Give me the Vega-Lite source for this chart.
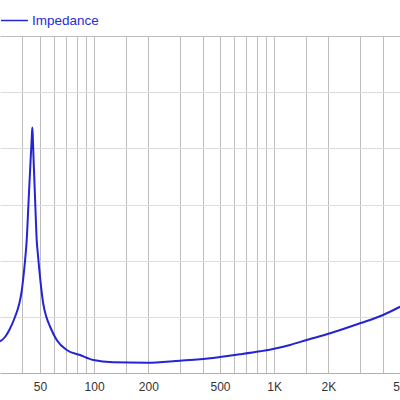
{
  "$schema": "https://vega.github.io/schema/vega-lite/v6.json",
  "width": 400,
  "height": 337,
  "autosize": {"type": "none"},
  "padding": {"top": 36, "left": 0, "right": 0, "bottom": 27},
  "background": "white",
  "config": {"view": {"stroke": null}},
  "data": {
    "values": [
      {"f": 30.0, "z": 5.61, "series": "Impedance"},
      {"f": 31.98, "z": 6.41, "series": "Impedance"},
      {"f": 33.79, "z": 7.66, "series": "Impedance"},
      {"f": 36.35, "z": 9.97, "series": "Impedance"},
      {"f": 38.4, "z": 12.37, "series": "Impedance"},
      {"f": 39.6, "z": 14.6, "series": "Impedance"},
      {"f": 40.52, "z": 17.27, "series": "Impedance"},
      {"f": 41.31, "z": 19.94, "series": "Impedance"},
      {"f": 42.22, "z": 23.68, "series": "Impedance"},
      {"f": 43.14, "z": 29.91, "series": "Impedance"},
      {"f": 44.37, "z": 37.92, "series": "Impedance"},
      {"f": 45.06, "z": 42.02, "series": "Impedance"},
      {"f": 45.35, "z": 43.71, "series": "Impedance"},
      {"f": 45.64, "z": 42.02, "series": "Impedance"},
      {"f": 46.11, "z": 37.92, "series": "Impedance"},
      {"f": 47.12, "z": 29.91, "series": "Impedance"},
      {"f": 47.97, "z": 23.68, "series": "Impedance"},
      {"f": 48.78, "z": 20.9, "series": "Impedance"},
      {"f": 49.41, "z": 18.94, "series": "Impedance"},
      {"f": 50.36, "z": 16.27, "series": "Impedance"},
      {"f": 52.2, "z": 12.28, "series": "Impedance"},
      {"f": 54.38, "z": 9.9, "series": "Impedance"},
      {"f": 56.87, "z": 8.28, "series": "Impedance"},
      {"f": 61.96, "z": 5.88, "series": "Impedance"},
      {"f": 70.44, "z": 4.09, "series": "Impedance"},
      {"f": 83.5, "z": 3.2, "series": "Impedance"},
      {"f": 99.0, "z": 2.31, "series": "Impedance"},
      {"f": 127.3, "z": 1.9, "series": "Impedance"},
      {"f": 196.0, "z": 1.83, "series": "Impedance"},
      {"f": 300.0, "z": 2.19, "series": "Impedance"},
      {"f": 387.4, "z": 2.44, "series": "Impedance"},
      {"f": 500.4, "z": 2.85, "series": "Impedance"},
      {"f": 646.3, "z": 3.33, "series": "Impedance"},
      {"f": 834.8, "z": 3.86, "series": "Impedance"},
      {"f": 985.8, "z": 4.27, "series": "Impedance"},
      {"f": 1225, "z": 4.99, "series": "Impedance"},
      {"f": 1517, "z": 5.88, "series": "Impedance"},
      {"f": 2044, "z": 7.07, "series": "Impedance"},
      {"f": 3000, "z": 8.85, "series": "Impedance"},
      {"f": 4026, "z": 10.33, "series": "Impedance"},
      {"f": 5004, "z": 11.8, "series": "Impedance"}
    ]
  },
  "mark": {"type": "line", "strokeWidth": 2, "interpolate": "monotone", "clip": true},
  "encoding": {
    "x": {
      "field": "f",
      "type": "quantitative",
      "scale": {"type": "log", "domain": [30, 5000], "nice": false},
      "axis": {
        "title": null,
        "values": [40, 50, 60, 70, 80, 90, 100, 150, 200, 300, 400, 500, 600, 700, 800, 900, 1000, 1500, 2000, 3000, 4000, 5000],
        "labelExpr": "(datum.value == 50 || datum.value == 100 || datum.value == 200 || datum.value == 500) ? '' + datum.value : ((datum.value == 1000 || datum.value == 2000 || datum.value == 5000) ? (datum.value / 1000) + 'K' : '')",
        "labelOverlap": false,
        "labelFlush": false,
        "labelBound": false,
        "ticks": false,
        "labelPadding": 8,
        "labelFont": "Liberation Sans",
        "labelFontSize": 12,
        "labelColor": "#333333",
        "gridColor": "#bdbdbd",
        "gridOpacity": 1,
        "domainColor": "#b0b0b0"
      }
    },
    "y": {
      "field": "z",
      "type": "quantitative",
      "scale": {"domain": [0, 60], "nice": false},
      "axis": {
        "title": null,
        "values": [0, 10, 20, 30, 40, 50, 60],
        "labels": false,
        "ticks": false,
        "domain": false,
        "gridColor": {"condition": {"test": "datum.value == 60", "value": "#bdbdbd"}, "value": "#dcdcdc"}
      }
    },
    "color": {
      "field": "series",
      "type": "nominal",
      "scale": {"range": ["#2424d4"]},
      "legend": {
        "title": null,
        "orient": "none",
        "legendX": 0,
        "legendY": -30,
        "padding": 0,
        "symbolType": "stroke",
        "symbolSize": 729,
        "symbolStrokeWidth": 1.5,
        "labelFont": "Liberation Sans",
        "labelFontSize": 13.5,
        "labelColor": "#2a2ad8",
        "labelOffset": 3
      }
    }
  }
}
